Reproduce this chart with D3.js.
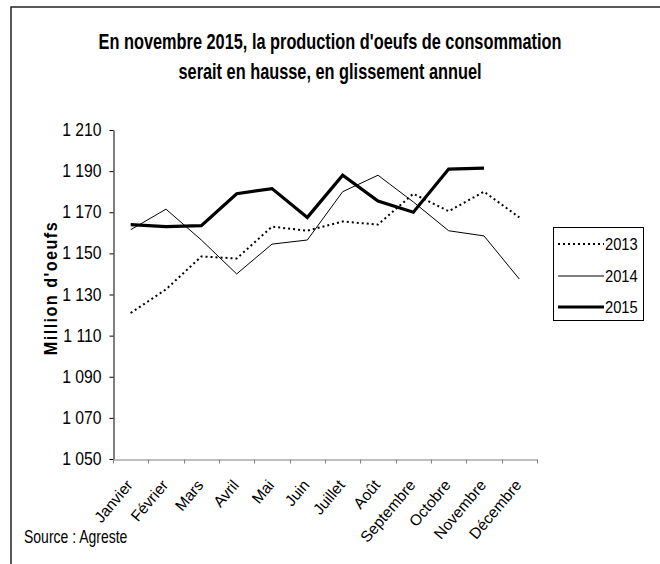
<!DOCTYPE html>
<html>
<head>
<meta charset="utf-8">
<script src="https://cdn.jsdelivr.net/npm/d3@7"></script>
<style>
  body { margin: 0; background: #fff; }
  svg { display: block; }
  text { font-family: "Liberation Sans", Arial, sans-serif; fill: #000; }
</style>
</head>
<body>
<svg id="chart" width="660" height="564"></svg>
<script>
'use strict';

// chart data
const months = ['Janvier', 'Février', 'Mars', 'Avril', 'Mai', 'Juin', 'Juillet', 'Août',
    'Septembre', 'Octobre', 'Novembre', 'Décembre'];
const years = ['2013', '2014', '2015'];
const values2013 = [1121, 1132.5, 1148.5, 1147.5, 1163, 1161, 1165.5, 1164, 1179, 1170.5, 1180, 1167.5];
const values2014 = [1161.5, 1171.5, 1156.5, 1140, 1154.5, 1156.5, 1180, 1188, 1175, 1161, 1158.5, 1137.5];
const values2015 = [1164, 1163, 1163.5, 1179, 1181.5, 1167.5, 1188, 1175.5, 1170, 1191, 1191.5, null];
const yTicks = [1050, 1070, 1090, 1110, 1130, 1150, 1170, 1190, 1210];

const titleLines = ["En novembre 2015, la production d'oeufs de consommation",
    'serait en hausse, en glissement annuel'];
const yLabel = "Million d'oeufs";
const sourceText = 'Source : Agreste';

const svg = d3.select('#chart');

const plot = { left: 113, right: 537, top: 130, bottom: 459 };

const x = d3.scaleBand().domain(months).range([plot.left, plot.right]);
const y = d3.scaleLinear().domain([1050, 1210]).range([plot.bottom, plot.top]);

const fmt = d3.formatLocale({ decimal: ',', thousands: ' ', grouping: [3], currency: ['', ''] }).format(',d');

// the original text is set in a narrow face, so squeeze it horizontally
const squeeze = (px, py, sx) => 'translate(' + px + ',' + py + ') scale(' + sx + ',1)';

// frame (top and left edges only)
svg.append('path')
    .attr('d', 'M11,564V7H660')
    .attr('fill', 'none')
    .attr('stroke', '#222')
    .attr('stroke-width', 1.5);

// title
svg.append('g').selectAll('text')
    .data(titleLines)
    .enter().append('text')
    .attr('transform', (d, i) => squeeze(330, 49 + i * 30, 0.76))
    .attr('text-anchor', 'middle')
    .style('font-weight', 'bold')
    .style('font-size', '21.5px')
    .text(d => d);

// y axis
const yAxis = d3.axisLeft(y).tickValues(yTicks).tickFormat(fmt).tickSize(4).tickSizeOuter(0);
const gy = svg.append('g')
    .attr('transform', 'translate(' + (plot.left + 0.5) + ',0)')
    .call(yAxis);
gy.select('.domain').attr('stroke', '#000');
gy.selectAll('.tick line').attr('stroke', '#000');
gy.selectAll('.tick text')
    .attr('x', 0)
    .attr('transform', squeeze(-12, 0, 0.9))
    .style('font-size', '17.5px')
    .style('font-family', '"Liberation Sans", Arial, sans-serif');

// x axis, ticks on category boundaries
const xAxis = d3.axisBottom(x).tickSize(0).tickSizeOuter(0);
const gx = svg.append('g')
    .attr('transform', 'translate(0,' + (plot.bottom + 0.5) + ')')
    .call(xAxis);
gx.select('.domain').attr('stroke', '#808080');
gx.selectAll('.tick text')
    .attr('text-anchor', 'end')
    .attr('x', 0)
    .attr('y', 0)
    .attr('dy', 0)
    .attr('transform', 'translate(3,26) rotate(-50)')
    .style('font-size', '15.5px')
    .style('font-family', '"Liberation Sans", Arial, sans-serif');

gx.selectAll('.boundary')
    .data(months.map(m => x(m)).concat([plot.right]))
    .enter().append('line')
    .attr('class', 'boundary')
    .attr('x1', d => Math.round(d) + 0.5)
    .attr('x2', d => Math.round(d) + 0.5)
    .attr('y1', 0)
    .attr('y2', 4)
    .attr('stroke', '#808080');

// y axis title
svg.append('text')
    .attr('transform', 'translate(57,288) rotate(-90) scale(0.9,1)')
    .attr('text-anchor', 'middle')
    .style('font-weight', 'bold')
    .style('font-size', '18px')
    .style('letter-spacing', '1.6px')
    .text(yLabel);

// lines
const styles = {
    '2013': { width: 2, dash: '2,3' },
    '2014': { width: 1, dash: null },
    '2015': { width: 3.2, dash: null }
};
const seriesValues = { '2013': values2013, '2014': values2014, '2015': values2015 };

const line = d3.line()
    .defined(d => d.value != null)
    .x(d => x(d.month) + x.bandwidth() / 2)
    .y(d => y(d.value));

years.forEach(year => {
    const data = months.map((month, i) => ({ month, value: seriesValues[year][i] }));
    svg.append('path')
        .datum(data)
        .attr('class', 'line line--' + year)
        .attr('fill', 'none')
        .attr('stroke', '#000')
        .attr('stroke-width', styles[year].width)
        .attr('stroke-dasharray', styles[year].dash)
        .attr('stroke-linejoin', 'miter')
        .attr('d', line);
});

// legend
const legend = svg.append('g').attr('transform', 'translate(553,227)');
legend.append('rect')
    .attr('x', 0.5).attr('y', 0.5)
    .attr('width', 90).attr('height', 93)
    .attr('fill', '#fff')
    .attr('stroke', '#000');

const items = legend.selectAll('.item')
    .data(years)
    .enter().append('g')
    .attr('class', 'item')
    .attr('transform', (d, i) => 'translate(0,' + [17, 49, 80][i] + ')');
items.append('line')
    .attr('x1', 5).attr('x2', 51)
    .attr('stroke', '#000')
    .attr('stroke-width', d => styles[d].width)
    .attr('stroke-dasharray', d => styles[d].dash);
items.append('text')
    .attr('transform', squeeze(52, 5.5, 0.92))
    .style('font-size', '16px')
    .text(d => d);

// source
svg.append('text')
    .attr('transform', squeeze(24, 543, 0.8))
    .style('font-size', '17.5px')
    .text(sourceText);
</script>
</body>
</html>
